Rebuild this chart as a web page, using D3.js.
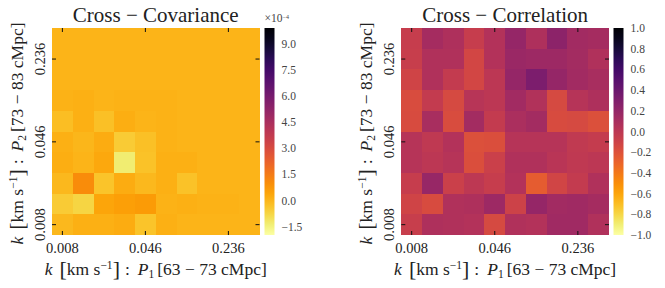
<!DOCTYPE html>
<html>
<head>
<meta charset="utf-8">
<script src="https://cdn.jsdelivr.net/npm/d3@7"></script>
<style>
  body { margin: 0; background: #fff; }
  svg, svg text { font-family: "Liberation Serif", "DejaVu Serif", serif; }
  .tick line { stroke: #111; stroke-width: 1; }
  .axis text { fill: #222; font-size: 14.5px; font-family: "Liberation Serif", serif; }
  .cbar text { fill: #444; font-size: 11.5px; }
</style>
</head>
<body>
<svg id="chart" width="665" height="288"></svg>
<script>
// k bins (same for both panels), only three of them get a tick label
const kBins = ["0.008", "0.012", "0.019", "0.030", "0.046", "0.071", "0.107", "0.159", "0.236", "0.360"];
const tickBins = ["0.008", "0.046", "0.236"];

// covariance, units of 1e-4, rows listed top (highest k of P2) to bottom
const covRows = [
  [0.02, 0.02, 0.02, 0.02, 0.02, 0.02, 0.02, 0.02, 0.02, 0.02],
  [0.02, 0.02, 0.02, 0.02, 0.02, 0.02, 0.02, 0.02, 0.02, 0.02],
  [0.02, 0.02, 0.02, 0.02, 0.02, 0.02, 0.02, 0.02, 0.02, 0.02],
  [0.08, 0.15, 0.05, 0.10, 0.08, 0.10, 0.05, 0.02, 0.02, 0.02],
  [-0.20, 0.14, -0.25, 0.20, 0.05, 0.10, 0.05, 0.02, 0.02, 0.02],
  [0.15, 0.00, 0.25, -0.50, -0.25, 0.10, 0.05, 0.02, 0.02, 0.02],
  [0.18, 0.05, 0.30, -1.35, -0.30, 0.15, 0.12, 0.02, 0.02, 0.02],
  [-0.05, 1.00, -0.35, 0.22, -0.05, 0.15, -0.30, 0.02, 0.02, 0.02],
  [-0.50, -0.75, 0.40, 0.55, 0.65, 0.08, 0.15, 0.10, 0.10, 0.02],
  [-0.05, 0.15, 0.15, 0.25, -0.35, 0.15, 0.03, 0.02, 0.02, 0.02]
];

// correlation, rows listed top to bottom
const corrRows = [
  [-0.06, 0.11, 0.07, -0.06, 0.04, 0.19, 0.07, 0.24, 0.13, 0.11],
  [-0.07, 0.06, 0.06, -0.13, 0.04, 0.17, 0.15, 0.15, 0.12, 0.06],
  [-0.11, 0.06, -0.04, -0.13, 0.00, 0.19, 0.32, 0.19, 0.13, 0.10],
  [-0.17, -0.04, -0.15, 0.02, 0.00, 0.13, 0.05, -0.15, 0.03, 0.07],
  [-0.16, 0.10, -0.17, 0.12, -0.04, 0.08, 0.12, -0.16, -0.15, -0.19],
  [0.03, -0.02, 0.04, -0.19, -0.18, 0.03, 0.03, 0.03, -0.03, -0.05],
  [0.03, 0.00, 0.03, -0.18, -0.08, 0.06, 0.06, 0.01, -0.02, 0.00],
  [-0.06, 0.18, -0.08, -0.01, -0.06, 0.04, -0.26, -0.12, -0.04, 0.06],
  [-0.11, -0.16, 0.06, 0.07, 0.15, -0.10, 0.19, 0.13, 0.14, 0.11],
  [-0.07, 0.07, 0.06, 0.04, -0.15, 0.06, 0.04, 0.14, 0.14, 0.06]
];

const covTicks = [-1.5, 0.0, 1.5, 3.0, 4.5, 6.0, 7.5, 9.0];
const corrTicks = [-1.0, -0.8, -0.6, -0.4, -0.2, 0.0, 0.2, 0.4, 0.6, 0.8, 1.0];

const svg = d3.select("#chart");
const top0 = 28, bottom0 = 235;

// reversed inferno, like matplotlib's inferno_r
const infernoR = t => d3.interpolateInferno(1 - t);

function drawPanel(opt) {
  const x = d3.scaleBand().domain(kBins).range([opt.left, opt.right]);
  const y = d3.scaleBand().domain(kBins).range([bottom0, top0]);
  const color = d3.scaleSequential(infernoR).domain(opt.domain);

  const cells = [];
  opt.rows.forEach((row, i) => {
    row.forEach((v, j) => cells.push({ xk: kBins[j], yk: kBins[kBins.length - 1 - i], v: v }));
  });

  const g = svg.append("g");
  g.selectAll("rect")
    .data(cells)
    .join("rect")
    .attr("x", d => x(d.xk))
    .attr("y", d => y(d.yk))
    .attr("width", d => x.bandwidth() + (d.xk === kBins[kBins.length - 1] ? 0 : 1))
    .attr("height", d => y.bandwidth() + (d.yk === kBins[0] ? 0 : 1))
    .attr("shape-rendering", "crispEdges")
    .attr("fill", d => color(d.v));

  // axes, ticks pointing inwards on all four sides
  const bottomAx = g.append("g").attr("class", "axis")
    .attr("transform", `translate(0,${bottom0})`)
    .call(d3.axisBottom(x).tickValues(tickBins).tickSize(-4));
  bottomAx.selectAll("text").attr("y", 18).attr("dy", 0);

  g.append("g").attr("class", "axis")
    .attr("transform", `translate(0,${top0})`)
    .call(d3.axisTop(x).tickValues(tickBins).tickSize(-4).tickFormat(""));

  const leftAx = g.append("g").attr("class", "axis")
    .attr("transform", `translate(${opt.left},0)`)
    .call(d3.axisLeft(y).tickValues(tickBins).tickSize(-4));
  leftAx.selectAll("text")
    .attr("x", 0).attr("dy", 0)
    .attr("text-anchor", "middle")
    .attr("transform", "translate(-7,0) rotate(-90)");

  g.append("g").attr("class", "axis")
    .attr("transform", `translate(${opt.right},0)`)
    .call(d3.axisRight(y).tickValues(tickBins).tickSize(-4).tickFormat(""));

  g.selectAll(".axis .domain").remove();

  // title
  g.append("text")
    .attr("x", (opt.left + opt.right) / 2)
    .attr("y", 22)
    .attr("text-anchor", "middle")
    .attr("font-size", 21)
    .attr("fill", "#222")
    .text(opt.title);

  // axis labels
  const xl = g.append("text")
    .attr("x", (opt.left + opt.right) / 2)
    .attr("y", 275)
    .attr("text-anchor", "middle")
    .attr("font-size", 17.5)
    .attr("fill", "#222");
  axisLabel(xl, "1", "63 \u2212 73 cMpc");

  const yl = g.append("text")
    .attr("transform", `translate(${opt.left - 29},${(top0 + bottom0) / 2 + 2}) rotate(-90)`)
    .attr("text-anchor", "middle")
    .attr("font-size", 17.5)
    .attr("fill", "#222");
  axisLabel(yl, "2", "73 \u2212 83 cMpc");

  // colour bar
  const cb = d3.scaleLinear().domain(opt.domain).range([bottom0, top0]);
  const gradId = "grad" + opt.id;
  const grad = svg.append("defs").append("linearGradient")
    .attr("id", gradId)
    .attr("x1", 0).attr("y1", 1).attr("x2", 0).attr("y2", 0);
  d3.range(0, 1.0001, 0.05).forEach(t => {
    grad.append("stop").attr("offset", t).attr("stop-color", infernoR(t));
  });
  const cbg = svg.append("g").attr("class", "cbar");
  cbg.append("rect")
    .attr("x", opt.cbarX).attr("y", top0)
    .attr("width", 10).attr("height", bottom0 - top0)
    .attr("fill", `url(#${gradId})`);
  cbg.selectAll("text.cb")
    .data(opt.ticks)
    .join("text")
    .attr("class", "cb")
    .attr("x", opt.cbarX + 17)
    .attr("y", d => cb(d))
    .attr("dy", "0.35em")
    .text(d => (d < 0 ? "\u2212" : "") + Math.abs(d).toFixed(1));
  if (opt.exponent) {
    const ex = cbg.append("text")
      .attr("x", opt.cbarX).attr("y", 22)
      .attr("font-size", 8).attr("fill", "#666");
    ex.append("tspan").text("\u00d710");
    ex.append("tspan").attr("font-size", 6).attr("dy", -3).text("\u22124");
  }
}

function axisLabel(sel, sub, range) {
  sel.append("tspan").attr("font-style", "italic").text("k");
  sel.append("tspan").attr("dx", 7).attr("font-size", 22).attr("dy", 1).text("[");
  sel.append("tspan").attr("dy", -1).text("km s");
  sel.append("tspan").attr("font-size", 11.5).attr("dy", -6).text("\u22121");
  sel.append("tspan").attr("font-size", 22).attr("dy", 7).text("]");
  sel.append("tspan").attr("dy", -1).attr("dx", 5).text(":");
  sel.append("tspan").attr("dx", 8).attr("font-style", "italic").text("P");
  sel.append("tspan").attr("font-size", 11.5).attr("dy", 3).text(sub);
  sel.append("tspan").attr("dy", -3).attr("dx", 3).text("[" + range + "]");
}

drawPanel({ id: "cov", left: 52, right: 259.5, rows: covRows, domain: [-1.98, 9.92],
  title: "Cross \u2212 Covariance", cbarX: 264.5, ticks: covTicks, exponent: true });
drawPanel({ id: "corr", left: 401.3, right: 609, rows: corrRows, domain: [-1, 1],
  title: "Cross \u2212 Correlation", cbarX: 613.5, ticks: corrTicks, exponent: false });
</script>
</body>
</html>
